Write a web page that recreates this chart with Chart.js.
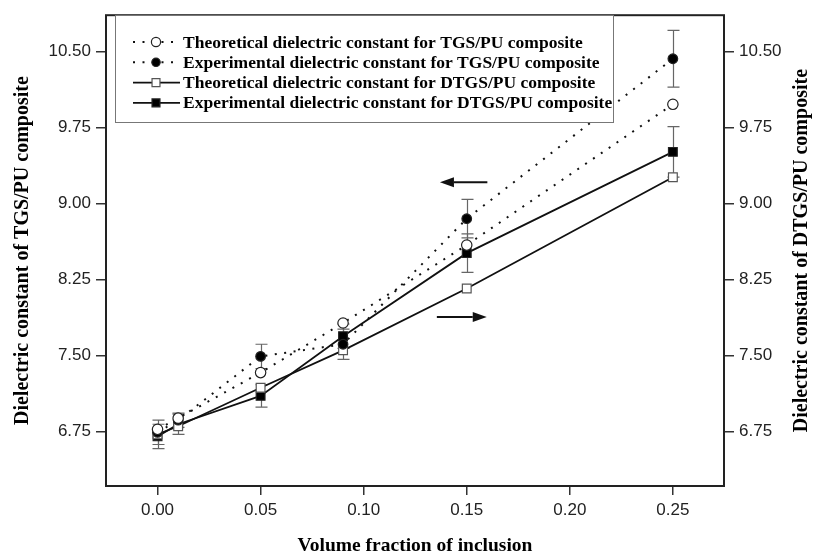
<!DOCTYPE html>
<html>
<head>
<meta charset="utf-8">
<script src="https://cdn.jsdelivr.net/npm/chart.js@4.4.1/dist/chart.umd.min.js"></script>
<style>
  html, body { margin: 0; padding: 0; background: #fff; }
  #wrap { width: 813px; height: 558px; }
</style>
</head>
<body>
<div id="wrap"><canvas id="chart" width="813" height="558"></canvas></div>
<script>
// volume fraction of inclusion
const fractions = [0, 0.01, 0.05, 0.09, 0.15, 0.25];

// dielectric constants
const theoTGS  = [6.77, 6.88, 7.33, 7.82, 8.59, 9.98];
const expTGS   = [6.74, 6.86, 7.49, 7.61, 8.85, 10.43];
const theoDTGS = [6.72, 6.80, 7.18, 7.55, 8.16, 9.26];
const expDTGS  = [6.70, 6.82, 7.10, 7.69, 8.51, 9.51];

// +/- spread of the measured values
const errTGS  = [0.12, 0.07, 0.12, 0.15, 0.19, 0.28];
const errDTGS = [0.12, 0.10, 0.11, 0.12, 0.19, 0.25];

const xTicks = [0, 0.05, 0.10, 0.15, 0.20, 0.25];
const yTicks = [6.75, 7.50, 8.25, 9.00, 9.75, 10.50];

const seriesLabels = [
  'Theoretical dielectric constant for TGS/PU composite',
  'Experimental dielectric constant for TGS/PU composite',
  'Theoretical dielectric constant for DTGS/PU composite',
  'Experimental dielectric constant for DTGS/PU composite',
];

const xTitle = 'Volume fraction of inclusion';
const yTitle = 'Dielectric constant of TGS/PU composite';
const y2Title = 'Dielectric constant of DTGS/PU composite';

// arrows pointing at the axis each pair of curves belongs to
const arrowTGS  = { from: 0.160, to: 0.137, y: 9.21, axis: 'y' };
const arrowDTGS = { from: 0.1355, to: 0.1597, y: 7.88, axis: 'y2' };

const INK = '#111';
const SERIF = "'Liberation Serif', 'Times New Roman', serif";
const SANS = "'Liberation Sans', Arial, sans-serif";
const DOTS = [2, 7.5];

const pts = (ys) => fractions.map((x, i) => ({ x, y: ys[i] }));

function series(label, ys, opts) {
  return Object.assign({
    label,
    data: pts(ys),
    borderColor: INK,
    borderWidth: 1.8,
    pointBorderColor: '#222',
    pointBorderWidth: 1.2,
    pointHoverRadius: 0,
    fill: false,
    tension: 0,
  }, opts);
}

const datasets = [
  series(seriesLabels[0], theoTGS, { yAxisID: 'y', borderDash: DOTS, borderWidth: 2, pointStyle: 'circle', pointRadius: 5.2, pointBackgroundColor: '#fff' }),
  series(seriesLabels[1], expTGS, { yAxisID: 'y', borderDash: DOTS, borderWidth: 2, pointStyle: 'circle', pointRadius: 4.8, pointBackgroundColor: '#000', errors: errTGS }),
  series(seriesLabels[2], theoDTGS, { yAxisID: 'y2', pointStyle: 'rect', pointRadius: 6.2, pointBackgroundColor: '#fff', pointBorderColor: '#555' }),
  series(seriesLabels[3], expDTGS, { yAxisID: 'y2', pointStyle: 'rect', pointRadius: 6.2, pointBackgroundColor: '#000', errors: errDTGS }),
];

// outline around the plotting area
const frame = {
  id: 'frame',
  afterDraw(chart) {
    const { ctx, chartArea: a } = chart;
    ctx.save();
    ctx.strokeStyle = '#222';
    ctx.lineWidth = 2;
    ctx.strokeRect(a.left, a.top, a.right - a.left, a.bottom - a.top);
    ctx.restore();
  }
};

const errorBars = {
  id: 'errorBars',
  beforeDatasetsDraw(chart) {
    const ctx = chart.ctx;
    const xs = chart.scales.x;
    ctx.save();
    ctx.strokeStyle = '#666';
    ctx.lineWidth = 1.2;
    chart.data.datasets.forEach((ds) => {
      if (!ds.errors) return;
      const ys = chart.scales[ds.yAxisID];
      ds.data.forEach((p, i) => {
        const px = Math.round(xs.getPixelForValue(p.x)) + 0.5;
        const top = ys.getPixelForValue(p.y + ds.errors[i]);
        const bot = ys.getPixelForValue(p.y - ds.errors[i]);
        ctx.beginPath();
        ctx.moveTo(px, top);
        ctx.lineTo(px, bot);
        ctx.moveTo(px - 6, top);
        ctx.lineTo(px + 6, top);
        ctx.moveTo(px - 6, bot);
        ctx.lineTo(px + 6, bot);
        ctx.stroke();
      });
    });
    ctx.restore();
  }
};

const arrows = {
  id: 'arrows',
  afterDatasetsDraw(chart) {
    const ctx = chart.ctx;
    const xs = chart.scales.x;
    ctx.save();
    ctx.strokeStyle = INK;
    ctx.fillStyle = INK;
    ctx.lineWidth = 2;
    [arrowTGS, arrowDTGS].forEach((a) => {
      const y = chart.scales[a.axis].getPixelForValue(a.y);
      const x0 = xs.getPixelForValue(a.from);
      const x1 = xs.getPixelForValue(a.to);
      const dir = Math.sign(x1 - x0);
      const head = 14;
      ctx.beginPath();
      ctx.moveTo(x0, y);
      ctx.lineTo(x1 - dir * head, y);
      ctx.stroke();
      ctx.beginPath();
      ctx.moveTo(x1, y);
      ctx.lineTo(x1 - dir * head, y - 5);
      ctx.lineTo(x1 - dir * head, y + 5);
      ctx.closePath();
      ctx.fill();
    });
    ctx.restore();
  }
};

// boxed legend with a line sample through each marker
const legendBox = {
  id: 'legendBox',
  afterDraw(chart) {
    const ctx = chart.ctx;
    const box = { left: 115, top: 15, right: 613, bottom: 122 };
    ctx.save();
    ctx.fillStyle = '#fff';
    ctx.fillRect(box.left, box.top, box.right - box.left, box.bottom - box.top);
    ctx.strokeStyle = '#777';
    ctx.lineWidth = 1;
    ctx.strokeRect(box.left + 0.5, box.top + 0.5, box.right - box.left, box.bottom - box.top);

    chart.data.datasets.forEach((ds, i) => {
      const y = 42 + i * 20.3;
      ctx.strokeStyle = INK;
      ctx.lineWidth = ds.borderDash ? 2 : 1.8;
      ctx.setLineDash(ds.borderDash || []);
      ctx.beginPath();
      ctx.moveTo(133, y);
      ctx.lineTo(180, y);
      ctx.stroke();
      ctx.setLineDash([]);

      ctx.fillStyle = ds.pointBackgroundColor;
      ctx.strokeStyle = ds.pointBorderColor;
      ctx.lineWidth = ds.pointBorderWidth;
      Chart.helpers.drawPoint(ctx, {
        pointStyle: ds.pointStyle,
        radius: ds.pointRadius - 0.6,
        rotation: 0,
        borderWidth: ds.pointBorderWidth,
      }, 156, y);

      ctx.fillStyle = '#000';
      ctx.font = `bold 17.5px ${SERIF}`;
      ctx.textBaseline = 'middle';
      ctx.textAlign = 'left';
      ctx.fillText(ds.label, 183, y + 1);
    });
    ctx.restore();
  }
};

const rightTitle = {
  id: 'rightTitle',
  afterDraw(chart) {
    const ctx = chart.ctx;
    const a = chart.chartArea;
    ctx.save();
    ctx.translate(802, (a.top + a.bottom) / 2);
    ctx.rotate(-Math.PI / 2);
    ctx.fillStyle = '#000';
    ctx.font = `bold 20px ${SERIF}`;
    ctx.textAlign = 'center';
    ctx.textBaseline = 'middle';
    ctx.fillText(y2Title, 0, 0);
    ctx.restore();
  }
};

const tickFont = { family: SANS, size: 17 };
const titleFont = { family: SERIF, size: 20, weight: 'bold' };
const tickGrid = { drawOnChartArea: false, drawTicks: true, color: '#333', lineWidth: 1.5 };

function yScale(position, width, title) {
  return {
    type: 'linear',
    position,
    min: 6.21,
    max: 10.86,
    border: { display: false },
    grid: Object.assign({ tickLength: 10 }, tickGrid),
    afterBuildTicks: (s) => { s.ticks = yTicks.map((v) => ({ value: v })); },
    afterFit: (s) => { s.width = width; },
    ticks: {
      font: tickFont,
      color: '#222',
      padding: 5,
      callback: (v) => v.toFixed(2),
    },
    title: title ? {
      display: true,
      text: title,
      font: titleFont,
      color: '#000',
      padding: { top: 11, bottom: 0 },
    } : { display: false },
  };
}

new Chart(document.getElementById('chart'), {
  type: 'line',
  data: { datasets },
  plugins: [errorBars, arrows, frame, legendBox, rightTitle],
  options: {
    responsive: false,
    animation: false,
    devicePixelRatio: 1,
    layout: { padding: { top: 6, left: 0, right: 0, bottom: 0 } },
    plugins: {
      legend: { display: false },
      tooltip: { enabled: false },
    },
    scales: {
      x: {
        type: 'linear',
        min: -0.025,
        max: 0.2748,
        border: { display: false },
        grid: Object.assign({ tickLength: 9 }, tickGrid),
        afterBuildTicks: (s) => { s.ticks = xTicks.map((v) => ({ value: v })); },
        afterFit: (s) => { s.height = 72; },
        ticks: {
          font: tickFont,
          color: '#222',
          padding: 5,
          maxRotation: 0,
          callback: (v) => v.toFixed(2),
        },
        title: {
          display: true,
          text: xTitle,
          font: { family: SERIF, size: 19.5, weight: 'bold' },
          color: '#000',
          padding: { top: 0, bottom: 0 },
        },
      },
      y: yScale('left', 106, yTitle),
      y2: yScale('right', 89, null),
    },
  },
});
</script>
</body>
</html>
